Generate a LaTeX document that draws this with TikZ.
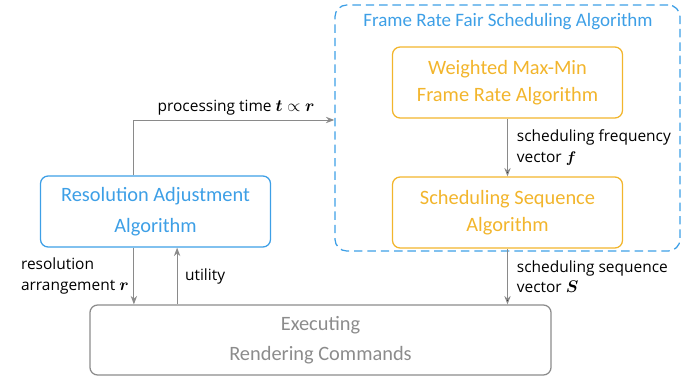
\documentclass[tikz,border=0pt]{standalone}
\usepackage{amsmath}
\usepackage{amssymb}
\usepackage{bm}
\usepackage{fontspec}
\setmainfont{Carlito}
\newfontfamily\labelfont{Open Sans}
\usetikzlibrary{
        arrows.meta,
        positioning
    }
\definecolor{algblue}{HTML}{3D9FE6}
\definecolor{algorange}{HTML}{F2B52C}
\definecolor{execgray}{HTML}{8C8C8C}
\definecolor{flowgray}{HTML}{8A8A8A}
\tikzset{>={Stealth[length=6pt,width=4.5pt]},x=0.025cm,y=-0.025cm}
\tikzset{
    algbox/.style={draw,rounded corners=5.5pt,line width=0.9pt,align=center,
        minimum width=5.75cm,minimum height=1.775cm},
    bluebox/.style={algbox,draw=algblue,text=algblue,font=\fontsize{14.5}{22}\selectfont},
    orangebox/.style={algbox,draw=algorange,text=algorange,font=\fontsize{14.5}{19}\selectfont},
    execbox/.style={algbox,draw=execgray,text=execgray,font=\fontsize{14.5}{21.5}\selectfont,
        minimum width=11.525cm,minimum height=1.75cm},
    fairbox/.style={draw=algblue,rounded corners=8.5pt,line width=0.9pt,
        dash pattern=on 6pt off 3.5pt,minimum width=8.625cm,minimum height=6.15cm},
    flow/.style={->,draw=flowgray,line width=0.7pt},
    flowlabel/.style={font=\labelfont\fontsize{11}{14.5}\selectfont,align=left,text=black}
}

\begin{document}
\begin{tikzpicture}
    \useasboundingbox (0,0) rectangle (691,382);
    % frame rate fair scheduling group
    \node[fairbox] (fair) at (507.5,128) {};
    \node[text=algblue,font=\fontsize{13.5}{16}\selectfont] (fairtitle) at (508,22) {Frame Rate Fair Scheduling Algorithm};
    \node[orangebox] (maxmin) at (507.5,82.5) {Weighted Max-Min\\Frame Rate Algorithm};
    \node[orangebox] (seq) at (507.5,212.5) {Scheduling Sequence\\Algorithm};
    % resolution adjustment and execution
    \node[bluebox] (res) at (155.5,211.5) {Resolution Adjustment\\Algorithm};
    \node[execbox] (exec) at (320.5,340) {Executing\\Rendering Commands};

    \path[flow]
        (maxmin) edge node[flowlabel,right,xshift=3pt] {scheduling frequency\\vector $\bm{f}$} (seq)
        (seq) edge node[flowlabel,right,xshift=3pt] {scheduling sequence\\vector {\large$\bm{S}$}} (seq.south |- exec.north)
        ;
    \draw[flow] ([xshift=-0.54cm]res.north) |- node[flowlabel,above,pos=0.755] {processing time {\large$\bm{t}\propto\bm{r}$}} ([yshift=0.2cm]fair.west);
    \draw[flow] ([xshift=-0.54cm]res.south) -- node[flowlabel,left] {resolution\\arrangement {\large$\bm{r}$}} ([xshift=-0.54cm]res.south |- exec.north);
    \draw[flow] ([xshift=0.54cm]res.south |- exec.north) -- node[flowlabel,right,xshift=2pt] {utility} ([xshift=0.54cm]res.south);
\end{tikzpicture}
\end{document}
